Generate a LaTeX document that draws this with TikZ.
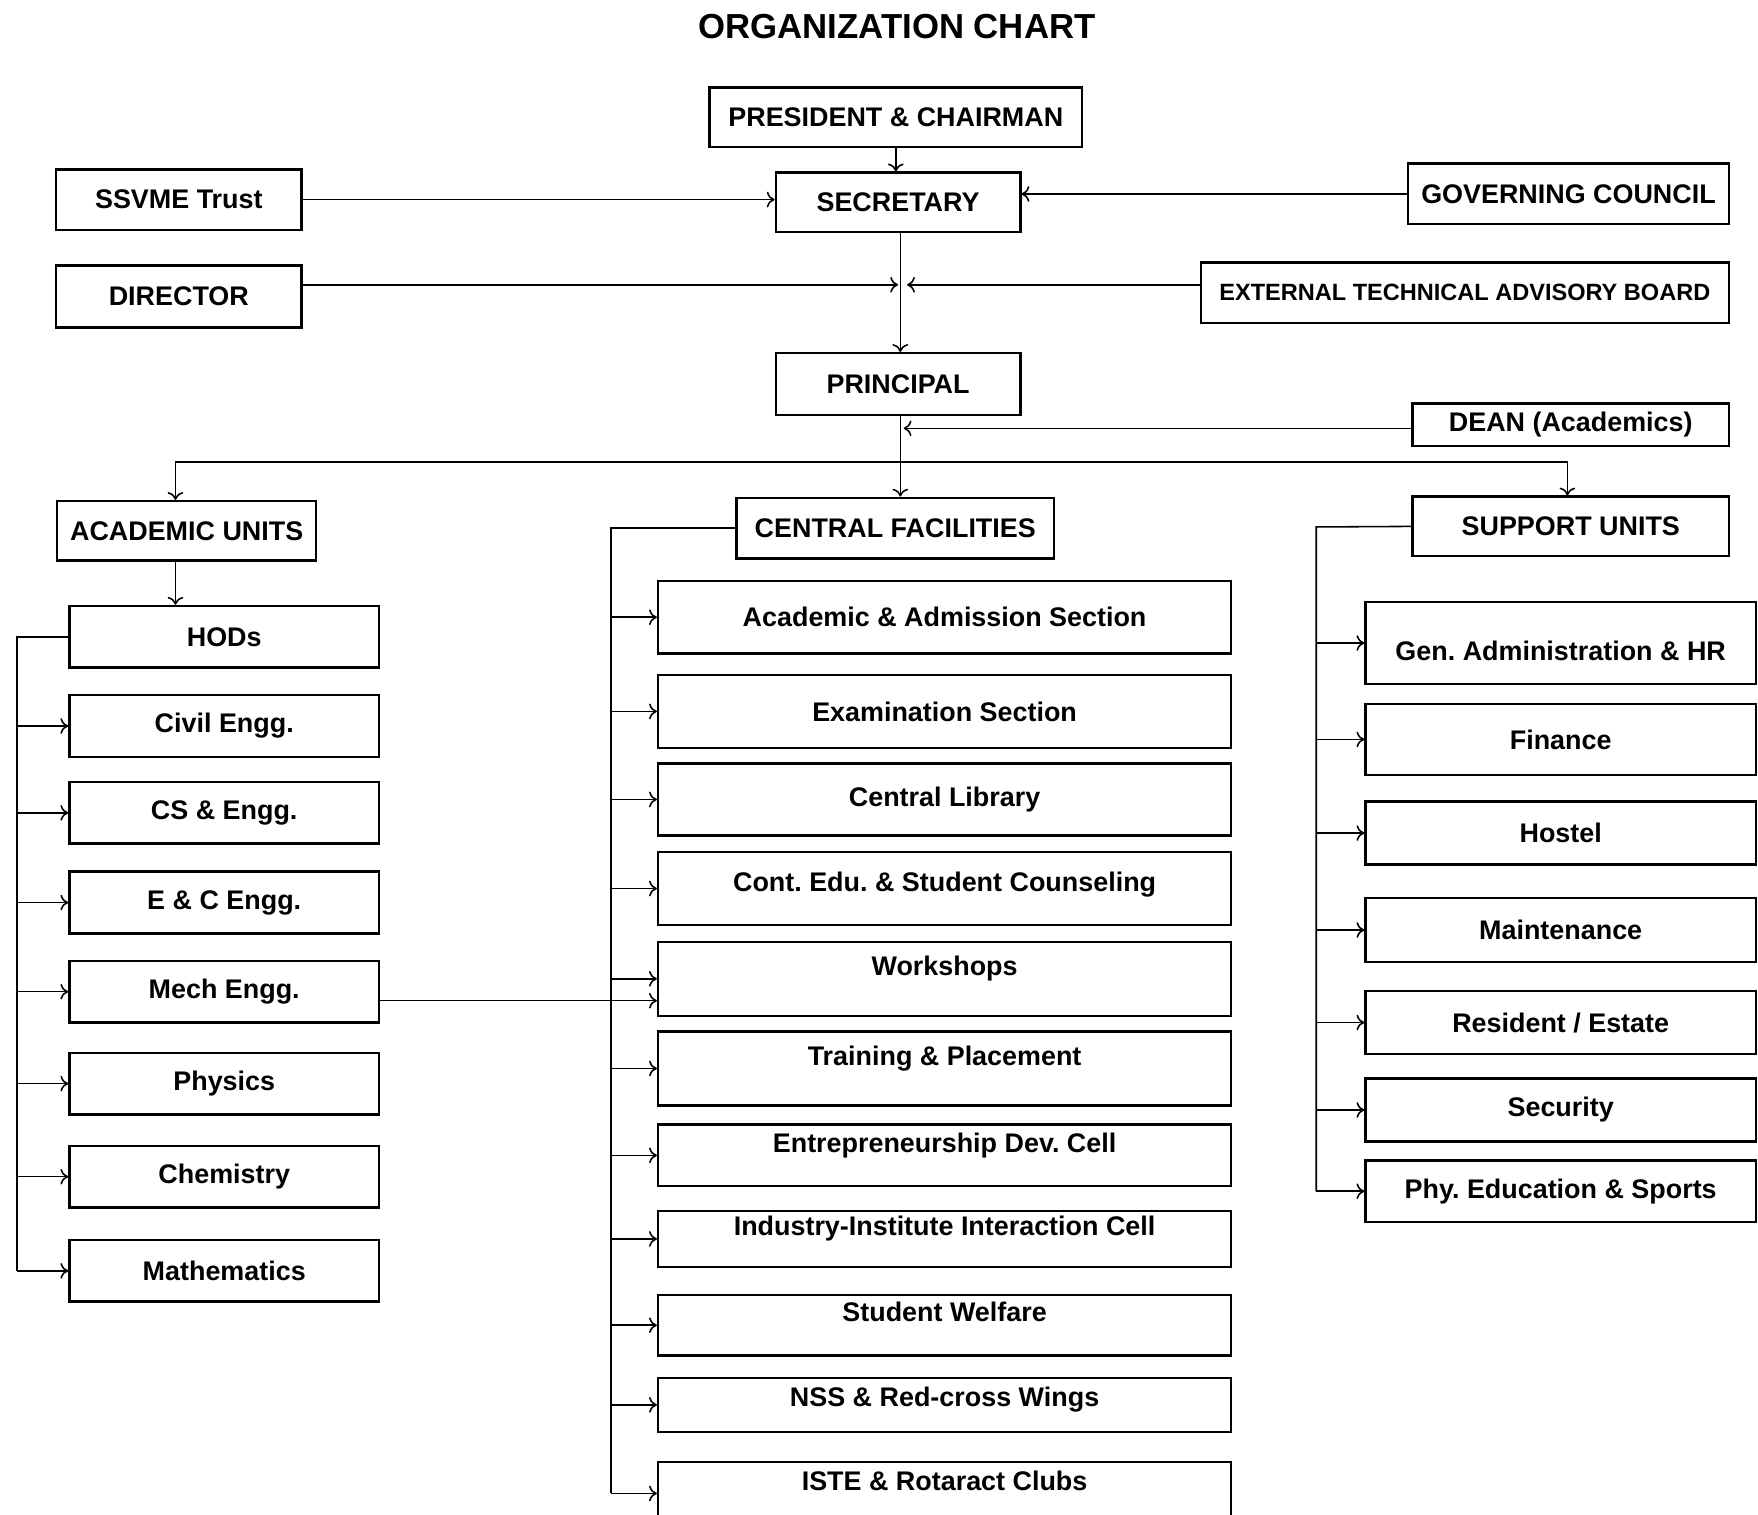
\documentclass[tikz,border=0pt]{standalone}
\usepackage{fontspec}
\setmainfont{Liberation Sans}
\usetikzlibrary{positioning, arrows.meta}
\frenchspacing

\begin{document}
\begin{tikzpicture}[
    x=0.5pt, y=-0.5pt,
    line width=0.7pt,
    >={To[length=3.5pt,width=7pt]},
    every node/.style={font=\bfseries\fontsize{12}{14}\selectfont},
    unit/.style={draw, line width=1.1pt, inner sep=0pt},
    dept/.style={unit, minimum width=138pt, minimum height=27.5pt},
    facility/.style={unit, minimum width=255.5pt},
    service/.style={unit, minimum width=174pt},
    raised/.style={text height=9pt, text depth=#1},
    raised/.default=12pt
]
\useasboundingbox (0,0) rectangle (1568,1350.4);

% Title
\node (title) at (800,24) {\fontsize{15.5}{18}\selectfont ORGANIZATION CHART};

% top level
\node[unit, minimum width=166pt, minimum height=26.5pt] (pres) at (799,104.5) {PRESIDENT \& CHAIRMAN};
\node[unit, minimum width=109pt, minimum height=26.5pt] (sec) at (801,180.5) {SECRETARY};
\node[unit, minimum width=109.5pt, minimum height=27pt] (trust) at (159.5,178) {SSVME Trust};
\node[unit, minimum width=143pt, minimum height=27pt] (gov) at (1399,173) {GOVERNING COUNCIL};
\node[unit, minimum width=109.5pt, minimum height=27.5pt] (dir) at (159.5,264.5) {DIRECTOR};
\node[unit, minimum width=235.5pt, minimum height=27pt, font=\bfseries\fontsize{10.5}{12}\selectfont] (board) at (1306.5,261) {EXTERNAL TECHNICAL ADVISORY BOARD};
\node[unit, minimum width=109pt, minimum height=27.5pt] (prin) at (801,342.5) {PRINCIPAL};
\node[unit, minimum width=141pt, minimum height=19pt] (dean) at (1401,379) {DEAN (Academics)};

% units
\node[unit, minimum width=115.5pt, minimum height=26.5pt] (acad) at (166.5,473.5) {ACADEMIC UNITS};
\node[unit, minimum width=141.5pt, minimum height=27pt] (cent) at (798.5,471) {CENTRAL FACILITIES};
\node[unit, minimum width=141pt, minimum height=26.5pt] (supp) at (1401,469.5) {SUPPORT UNITS};

% academic units
\node[dept] (hods) at (200,568) {HODs};
\node[dept] (civil) at (200,647.5) {Civil Engg.};
\node[dept] (cse) at (200,725) {CS \& Engg.};
\node[dept] (ece) at (200,805) {E \& C Engg.};
\node[dept] (mech) at (200,884.5) {Mech Engg.};
\node[dept] (phys) at (200,966.5) {Physics};
\node[dept] (chem) at (200,1049.5) {Chemistry};
\node[dept] (math) at (200,1133.5) {Mathematics};

% central facilities
\node[facility, minimum height=32.5pt] (admission) at (842.5,550.5) {Academic \& Admission Section};
\node[facility, minimum height=32.5pt] (exam) at (842.5,634.5) {Examination Section};
\node[facility, minimum height=32pt] (library) at (842.5,713) {Central Library};
\node[facility, minimum height=32.5pt, raised=6.5pt] (counsel) at (842.5,792.5) {Cont. Edu. \& Student Counseling};
\node[facility, minimum height=33pt, raised] (workshop) at (842.5,873) {Workshops};
\node[facility, minimum height=33pt, raised] (training) at (842.5,953) {Training \& Placement};
\node[facility, minimum height=27.5pt, raised] (edc) at (842.5,1030.5) {Entrepreneurship Dev. Cell};
\node[facility, minimum height=25pt, raised] (iiic) at (842.5,1105) {Industry-Institute Interaction Cell};
\node[facility, minimum height=27pt, raised] (welfare) at (842.5,1182) {Student Welfare};
\node[facility, minimum height=24pt, raised=7.5pt] (nss) at (842.5,1253) {NSS \& Red-cross Wings};
\node[facility, minimum height=28pt, raised] (clubs) at (842.5,1332) {ISTE \& Rotaract Clubs};

% support units
\node[service, minimum height=36.5pt, text height=18pt, text depth=2.5pt] (admin) at (1392,573.5) {Gen. Administration \& HR};
\node[service, minimum height=31.5pt] (finance) at (1392,659.5) {Finance};
\node[service, minimum height=28pt] (hostel) at (1392,743) {Hostel};
\node[service, minimum height=28.5pt] (maint) at (1392,829.5) {Maintenance};
\node[service, minimum height=28pt] (estate) at (1392,912) {Resident / Estate};
\node[service, minimum height=28pt] (security) at (1392,990) {Security};
\node[service, minimum height=27.5pt] (sports) at (1392,1062.5) {Phy. Education \& Sports};

% junctions
\coordinate (dirin) at (801,254);
\coordinate (boardin) at (809,254);
\coordinate (deanin) at (806,382);
\coordinate (bus) at (803,412);
\coordinate (lbus) at (15,568);
\coordinate (cbus) at (545,471);
\coordinate (sbus) at (1174,470);

% top edges
\draw[->] (pres.south) -- (pres.south |- sec.north);
\draw[->] (trust.east) -- (trust.east -| sec.west);
\draw[->] (gov.west) -- (gov.west -| sec.east);
\draw[->] (sec.south -| bus) -- (prin.north -| bus);
\draw[->] (dir.east |- dirin) -- (dirin);
\draw[->] (board.west |- boardin) -- (boardin);
\draw[->] (dean.west |- deanin) -- (deanin);

% units edges
\draw (prin.south -| bus) -- (bus);
\draw[->] (bus) -- (bus |- cent.north);
\draw[->] (bus) -| ([xshift=-5pt]acad.north);
\draw[->] (bus) -| ([xshift=-1.5pt]supp.north);
\draw[->] ([xshift=-5pt]acad.south) -- ([xshift=-5pt]acad.south |- hods.north);

% academic edges
\draw (hods.west) -- (lbus) -- (lbus |- math.west);
\draw[->] (lbus |- civil.west) -- (civil.west);
\draw[->] (lbus |- cse.west) -- (cse.west);
\draw[->] (lbus |- ece.west) -- (ece.west);
\draw[->] (lbus |- mech.west) -- (mech.west);
\draw[->] (lbus |- phys.west) -- (phys.west);
\draw[->] (lbus |- chem.west) -- (chem.west);
\draw[->] (lbus |- math.west) -- (math.west);

% central edges
\draw (cent.west) -- (cbus) -- (cbus |- clubs.west);
\draw[->] (cbus |- admission.west) -- (admission.west);
\draw[->] (cbus |- exam.west) -- (exam.west);
\draw[->] (cbus |- library.west) -- (library.west);
\draw[->] (cbus |- counsel.west) -- (counsel.west);
\draw[->] (cbus |- workshop.west) -- (workshop.west);
\draw[->] (cbus |- training.west) -- (training.west);
\draw[->] (cbus |- edc.west) -- (edc.west);
\draw[->] (cbus |- iiic.west) -- (iiic.west);
\draw[->] (cbus |- welfare.west) -- (welfare.west);
\draw[->] (cbus |- nss.west) -- (nss.west);
\draw[->] (cbus |- clubs.west) -- (clubs.west);
\draw[->] ([yshift=-4pt]mech.east) -- ([yshift=-4pt]mech.east -| workshop.west);

% support edges
\draw (supp.west) -- (sbus) -- (sbus |- sports.west);
\draw[->] (sbus |- admin.west) -- (admin.west);
\draw[->] (sbus |- finance.west) -- (finance.west);
\draw[->] (sbus |- hostel.west) -- (hostel.west);
\draw[->] (sbus |- maint.west) -- (maint.west);
\draw[->] (sbus |- estate.west) -- (estate.west);
\draw[->] (sbus |- security.west) -- (security.west);
\draw[->] (sbus |- sports.west) -- (sports.west);

\end{tikzpicture}
\end{document}
